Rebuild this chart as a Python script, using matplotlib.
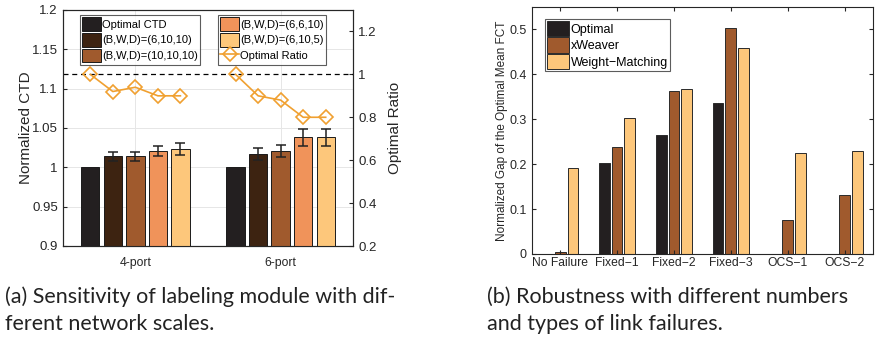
import numpy as np
import matplotlib.pyplot as plt

# ---- panel (a) data
groups_a = ['4-port', '6-port']
labels_a = ['Optimal CTD', '(B,W,D)=(6,10,10)', '(B,W,D)=(10,10,10)',
            '(B,W,D)=(6,6,10)', '(B,W,D)=(6,10,5)']
ctd = np.array([[1.000, 1.014, 1.014, 1.021, 1.023],
                [1.000, 1.017, 1.021, 1.038, 1.038]])
ctd_err = np.array([[0.0, 0.006, 0.006, 0.0065, 0.0075],
                    [0.0, 0.0072, 0.0075, 0.0105, 0.0105]])
ratio = np.array([[1.0, 0.92, 0.94, 0.90, 0.90],
                  [1.0, 0.90, 0.88, 0.80, 0.80]])
colors_a = ['#231F20', '#3D2311', '#A05A2D', '#F0935A', '#FDC77B']

# ---- panel (b) data
cats_b = ['No Failure', 'Fixed\u22121', 'Fixed\u22122', 'Fixed\u22123', 'OCS\u22121', 'OCS\u22122']
optimal = [0.0, 0.202, 0.265, 0.336, 0.0, 0.0]
xweaver = [0.005, 0.239, 0.362, 0.504, 0.076, 0.131]
wmatch = [0.192, 0.303, 0.368, 0.458, 0.226, 0.230]
colors_b = ['#231F20', '#A05A2D', '#FDC77B']

plt.rcParams['font.family'] = ['Liberation Sans', 'DejaVu Sans']
W, H = 888, 341
fig = plt.figure(figsize=(W / 100, H / 100), dpi=100)

def box(x0, y0, x1, y1):
    return [x0 / W, 1 - y1 / H, (x1 - x0) / W, (y1 - y0) / H]

# ================= panel (a)
ax = fig.add_axes(box(62.7, 10, 353.3, 246))
ax2 = ax.twinx()
xa = np.arange(1, 3)
bw = 0.126
step = 0.155
bars = []
for i in range(5):
    xs = xa + (i - 2) * step
    b = ax.bar(xs, ctd[:, i], bw, color=colors_a[i], edgecolor='#1a1a1a', lw=0.7,
               zorder=3, label=labels_a[i])
    bars.append(b)
    if i > 0:
        ax.errorbar(xs, ctd[:, i], yerr=ctd_err[:, i], fmt='none', ecolor='#222222',
                    elinewidth=1.1, capsize=3.8, capthick=1.1, zorder=4)
ax.set_ylim(0.9, 1.2)
ax.set_xlim(0.5, 2.5)
ax.set_yticks([0.9, 0.95, 1.0, 1.05, 1.1, 1.15, 1.2])
ax.set_yticklabels(['0.9', '0.95', '1', '1.05', '1.1', '1.15', '1.2'])
ax.set_xticks(xa)
ax.set_xticklabels(groups_a)
ax.grid(True, color='#e6e6e6', lw=0.7, zorder=0)
ax.set_axisbelow(True)
ax.set_ylabel('Normalized CTD', fontsize=11, color='#262626', labelpad=-1)
ax.tick_params(direction='in', labelsize=9.5, colors='#262626', length=3)
ax.tick_params(axis='x', pad=8, labelsize=8.8)

lines = []
for g in range(2):
    xs = xa[g] + (np.arange(5) - 2) * step
    ln, = ax2.plot(xs, ratio[g], color='#F0A030', lw=1.2, marker='D', ms=7,
                   mfc='none', mec='#F0A030', mew=1.2, zorder=5, label='Optimal Ratio')
    lines.append(ln)
ax2.axhline(1.0, color='black', ls=(0, (4, 3)), lw=0.9)
ax2.set_ylim(0.2, 1.3)
ax2.set_yticks([0.2, 0.4, 0.6, 0.8, 1.0, 1.2])
ax2.set_yticklabels(['0.2', '0.4', '0.6', '0.8', '1', '1.2'])
ax2.set_ylabel('Optimal Ratio', fontsize=11, color='#262626', labelpad=8)
ax2.tick_params(direction='in', labelsize=9.5, colors='#262626', length=3)
for a in (ax, ax2):
    for s in a.spines.values():
        s.set_color('#262626')
        s.set_linewidth(0.8)

legkw = dict(fontsize=8, frameon=True, fancybox=False, edgecolor='#333333',
             handlelength=1.7, handleheight=1.5, handletextpad=0.1, labelspacing=0.2,
             borderpad=0.2, borderaxespad=0)
leg1 = ax2.legend(handles=bars[:3], loc='upper left',
                  bbox_to_anchor=((80 - 62.7) / 290.6, 1 - 5 / 236), **legkw)
leg1.get_frame().set_linewidth(0.8)
ax2.add_artist(leg1)
leg2 = ax2.legend(handles=bars[3:] + [lines[0]], loc='upper left',
                  bbox_to_anchor=((218 - 62.7) / 290.6, 1 - 5 / 236), **legkw)
leg2.get_frame().set_linewidth(0.8)

# ================= panel (b)
bx = fig.add_axes(box(531.7, 7, 873, 254))
xb = np.arange(1, len(cats_b) + 1)
bw2 = 0.19
st2 = 0.225
for i, (vals, lab) in enumerate(zip([optimal, xweaver, wmatch],
                                    ['Optimal', 'xWeaver', 'Weight\u2212Matching'])):
    bx.bar(xb + (i - 1) * st2, vals, bw2, color=colors_b[i], edgecolor='#2a2a2a',
           lw=0.7, label=lab)
bx.set_xlim(0.5, 6.5)
bx.set_ylim(0, 0.55)
bx.set_yticks([0, 0.1, 0.2, 0.3, 0.4, 0.5])
bx.set_yticklabels(['0', '0.1', '0.2', '0.3', '0.4', '0.5'])
bx.set_xticks(xb)
bx.set_xticklabels(cats_b)
bx.tick_params(direction='in', labelsize=9, colors='#262626', length=3,
               top=True, right=True)
bx.tick_params(axis='x', pad=2, labelsize=8.7)
bx.set_ylabel('Normalized Gap of the Optimal Mean FCT', fontsize=8.5,
              color='#262626', labelpad=1)
for s in bx.spines.values():
    s.set_color('#262626')
    s.set_linewidth(0.8)
legkw3 = dict(legkw, fontsize=9, handlelength=1.8, labelspacing=0.1, borderpad=0.15)
leg3 = bx.legend(loc='upper left', bbox_to_anchor=((545 - 531.7) / 341.3, 1 - 12 / 247),
                 **legkw3)
leg3.get_frame().set_linewidth(0.8)

# ================= captions
capkw = dict(fontsize=15.5, family=['Lato', 'DejaVu Sans'],
             color='#222222', va='center', ha='left')
fig.text(5 / W, 1 - 297 / H, '(a) Sensitivity of labeling module with dif-', **capkw)
fig.text(5 / W, 1 - 324 / H, 'ferent network scales.', **capkw)
fig.text(487 / W, 1 - 297 / H, '(b) Robustness with different numbers', **capkw)
fig.text(487 / W, 1 - 324 / H, 'and types of link failures.', **capkw)

fig.savefig('out.png', dpi=100)
